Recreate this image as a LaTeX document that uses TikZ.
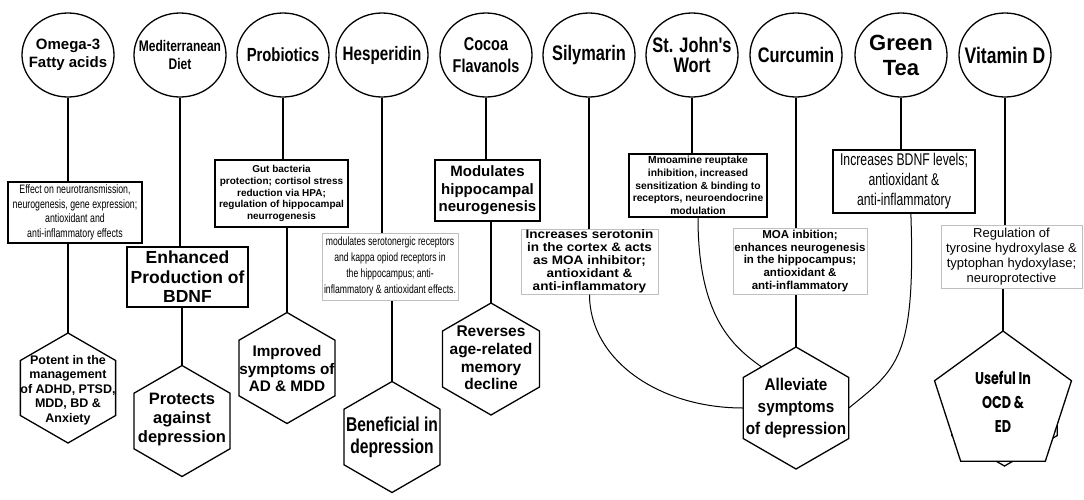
\documentclass[tikz,border=0pt]{standalone}
\usepackage{fontspec}
\setmainfont{Liberation Sans}
\newfontfamily\narrowfont[FakeStretch=0.78]{Liberation Sans}
\newfontfamily\condfont[FakeStretch=0.72]{Liberation Sans}
\newfontfamily\semifont[FakeStretch=0.9]{Liberation Sans}
\newfontfamily\widefont[FakeStretch=1.1]{Liberation Sans}
\newfontfamily\popfont[FakeStretch=0.75]{Poppins}
\usetikzlibrary{shapes.geometric,calc}
\newcommand{\setfs}[2]{\fontsize{#1}{#2}\selectfont}

\begin{document}
\begin{tikzpicture}[x=1pt,y=-1pt,
circ/.style={draw,ellipse,line width=1.3pt,minimum width=92pt,minimum height=84pt,inner sep=0pt},
ctxt/.style={align=center,inner sep=0pt},
bbox/.style={draw,line width=1.6pt,inner sep=0pt,align=center},
gbox/.style={draw=black!25,line width=1pt,inner sep=0pt,align=center},
hexa/.style={draw,fill=white,regular polygon,regular polygon sides=6,shape border rotate=30,line width=1.3pt,inner sep=0pt,outer sep=0pt,minimum size=#1},
hexa/.default=111pt,
hextxt/.style={align=center,inner sep=0pt},
ln/.style={line width=1.3pt},
crv/.style={line width=1pt}]
\useasboundingbox (0,0) rectangle (1084,499);

\node[circ] (omega) at (68,55) {};
\node[circ] (medit) at (180,55) {};
\node[circ] (probio) at (283,55) {};
\node[circ] (hesper) at (382,55) {};
\node[circ] (cocoa) at (486,55) {};
\node[circ] (silym) at (589,55) {};
\node[circ] (stjohn) at (692,55) {};
\node[circ] (curcu) at (796,55) {};
\node[circ] (gtea) at (901,55) {};
\node[circ] (vitd) at (1005,55) {};
\node[ctxt,font=\bfseries\setfs{15}{18}] (omegaT) at (omega) {Omega-3\\Fatty acids};
\node[ctxt,font=\bfseries\narrowfont\setfs{15.4}{18.3}] (meditT) at (medit) {Mediterranean\\Diet};
\node[ctxt,font=\bfseries\narrowfont\setfs{19}{21}] (probioT) at (probio) {Probiotics};
\node[ctxt,font=\bfseries\narrowfont\setfs{19.5}{21}] (hesperT) at (hesper) {Hesperidin};
\node[ctxt,font=\bfseries\narrowfont\setfs{18.5}{21.5}] (cocoaT) at (cocoa) {Cocoa\\Flavanols};
\node[ctxt,font=\bfseries\narrowfont\setfs{21}{23}] (silymT) at (silym) {Silymarin};
\node[ctxt,font=\bfseries\narrowfont\setfs{21}{20}] (stjohnT) at (stjohn) {St. John's\\Wort};
\node[ctxt,font=\bfseries\narrowfont\setfs{21}{23}] (curcuT) at (curcu) {Curcumin};
\node[ctxt,font=\bfseries\setfs{22}{25}] (gteaT) at (gtea) {Green\\Tea};
\node[ctxt,font=\bfseries\narrowfont\setfs{22.5}{24}] (vitdT) at (vitd) {Vitamin D};

\node[bbox,minimum width=134pt,minimum height=61pt,font=\condfont\setfs{12.2}{14.5}] (omBox) at (75,212.5) {Effect on neurotransmission,\\neurogenesis, gene expression;\\antioxidant and\\anti-inflammatory effects};
\node[bbox,minimum width=121pt,minimum height=60pt,font=\bfseries\setfs{17.5}{19.5}] (medBox) at (187.5,277) {Enhanced\\Production of\\BDNF};
\node[bbox,minimum width=133pt,minimum height=67pt,font=\bfseries\setfs{10}{11.7}] (proBox) at (281.5,193.5) {Gut bacteria\\protection; cortisol stress\\reduction via HPA;\\regulation of hippocampal\\neurrogenesis};
\node[gbox,minimum width=136pt,minimum height=67pt,font=\condfont\setfs{12}{16}] (hesBox) at (390,266.5) {modulates serotonergic receptors\\and kappa opiod receptors in\\the hippocampus; anti-\\inflammatory \& antioxidant effects.};
\node[bbox,minimum width=105pt,minimum height=61pt,font=\bfseries\setfs{15}{17.5}] (cocBox) at (487.5,190.5) {Modulates\\hippocampal\\neurogenesis};
\node[gbox,minimum width=137pt,minimum height=65pt,font=\bfseries\widefont\setfs{12.3}{12.9}] (silBox) at (589.5,261.5) {Increases serotonin\\in the cortex \& acts\\as MOA inhibitor;\\antioxidant \&\\anti-inflammatory};
\node[bbox,minimum width=138pt,minimum height=63pt,font=\bfseries\setfs{10.3}{12.75}] (stjBox) at (698,185.5) {Mmoamine reuptake\\inhibition, increased\\sensitization \& binding to\\receptors, neuroendocrine\\modulation};
\node[gbox,minimum width=134pt,minimum height=66pt,font=\bfseries\setfs{11.5}{12.9}] (curBox) at (800,261) {MOA inbition;\\enhances neurogenesis\\in the hippocampus;\\antioxidant \&\\anti-inflammatory};
\node[bbox,minimum width=142pt,minimum height=63pt,font=\condfont\setfs{17}{20}] (gtBox) at (904,181.5) {Increases BDNF levels;\\antioxidant \&\\anti-inflammatory};
\node[gbox,minimum width=141pt,minimum height=63pt,font=\setfs{13}{15}] (vdBox) at (1011.5,256.5) {Regulation of\\tyrosine hydroxylase \&\\typtophan hydoxylase;\\neuroprotective};

\node[hexa=110pt] (omHex) at (68,388) {};
\node[hexa] (medHex) at (182,421) {};
\node[hexa] (proHex) at (287,368) {};
\node[hexa] (hesHex) at (392,437) {};
\node[hexa=112pt] (cocHex) at (491,359) {};
\node[hexa=122pt] (allHex) at (796,408) {};
\node[hexa=122pt] (vdHex) at (1004.5,405) {};
\node[draw,fill=white,regular polygon,regular polygon sides=5,line width=1.3pt,inner sep=0pt,outer sep=0pt,minimum size=144pt] (vdPent) at (1003,403) {};

\node[hextxt,font=\bfseries\setfs{12.5}{14.6}] (omHexT) at (68,390) {Potent in the\\management\\of ADHD, PTSD,\\MDD, BD \&\\Anxiety};
\node[hextxt,font=\bfseries\setfs{16.5}{19}] (medHexT) at (182,420) {Protects\\against\\depression};
\node[hextxt,font=\bfseries\setfs{15.3}{17.5}] (proHexT) at (287,369) {Improved\\symptoms of\\AD \& MDD};
\node[hextxt,font=\bfseries\narrowfont\setfs{20}{22}] (hesHexT) at (392,437) {Beneficial in\\depression};
\node[hextxt,font=\bfseries\setfs{15.5}{17.8}] (cocHexT) at (491,358) {Reverses\\age-related\\memory\\decline};
\node[hextxt,font=\bfseries\semifont\setfs{17}{22}] (allHexT) at (796,408) {Alleviate\\symptoms\\of depression};
\node[hextxt,font=\bfseries\popfont\setfs{17}{24}] (vdPentT) at (1003,402) {Useful In\\OCD \&\\ED};

\draw[ln] (omega.south) -- (omega.south |- omBox.north);
\draw[ln] (omHex.north) -- (omHex.north |- omBox.south);
\draw[ln] (medit.south) -- (medit.south |- medBox.north);
\draw[ln] (medHex.north) -- (medHex.north |- medBox.south);
\draw[ln] (probio.south) -- (probio.south |- proBox.north);
\draw[ln] (proHex.north) -- (proHex.north |- proBox.south);
\draw[ln] (hesper.south) -- (hesper.south |- hesBox.north);
\draw[ln] (hesHex.north) -- (hesHex.north |- hesBox.south);
\draw[ln] (cocoa.south) -- (cocoa.south |- cocBox.north);
\draw[ln] (cocHex.north) -- (cocHex.north |- cocBox.south);
\draw[ln] (silym.south) -- (silym.south |- silBox.north);
\draw[ln] (stjohn.south) -- (stjohn.south |- stjBox.north);
\draw[ln] (curcu.south) -- (curcu.south |- curBox.north);
\draw[ln] (allHex.north) -- (allHex.north |- curBox.south);
\draw[ln] (gtea.south) -- (gtea.south |- gtBox.north);
\draw[ln] (vitd.south) -- (vitd.south |- vdBox.north);
\draw[ln] (vdPent.north) -- (vdPent.north |- vdBox.south);
\draw[crv] (silBox.south) .. controls ($(silBox.south)+(0,65)$) and ($(allHex.west)+(-85,0)$) .. (allHex.west);
\draw[crv] (stjBox.south) .. controls ($(stjBox.south)+(0,100)$) and ($(allHex.130)+(-28,-20)$) .. (allHex.130);
\draw[crv] (gtBox.-78) .. controls ($(gtBox.-78)+(5,145)$) and ($(allHex.east)+(48,-39)$) .. (allHex.east);
\end{tikzpicture}
\end{document}
